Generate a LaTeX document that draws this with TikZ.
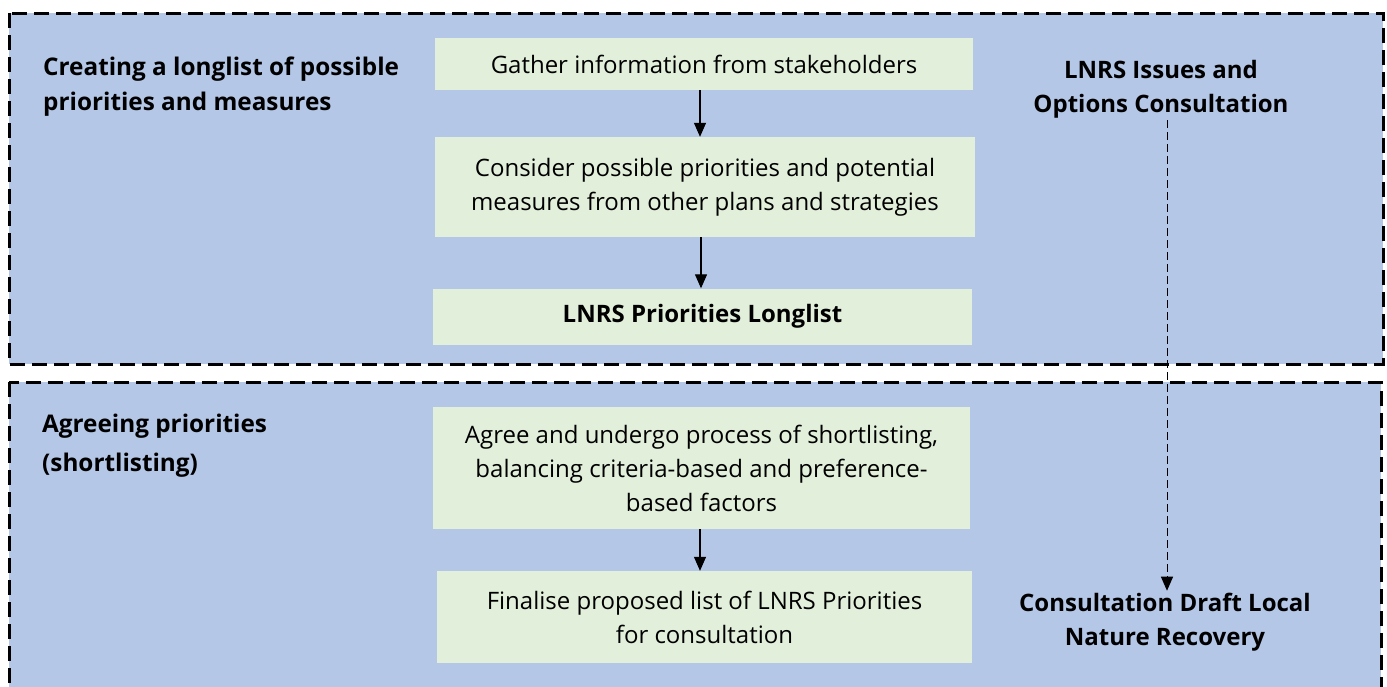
\documentclass[tikz,border=0pt]{standalone}
\usepackage{fontspec}
\setmainfont{Open Sans}
\usetikzlibrary{arrows.meta}
\definecolor{panelblue}{HTML}{B4C7E7}
\definecolor{boxgreen}{HTML}{E2EFDA}
\begin{document}
\begin{tikzpicture}[x=1pt,y=-1pt,
  panel/.style={draw=black, fill=panelblue, line width=3pt, dash pattern=on 15pt off 7pt},
  gbox/.style={fill=boxgreen, draw=none, align=center, inner sep=0pt,
    font=\fontsize{24}{34}\selectfont},
  lbl/.style={align=left, inner sep=0pt, anchor=west},
  rlbl/.style={align=center, inner sep=2pt,
    font=\fontsize{24}{34}\selectfont\bfseries},
  flow/.style={-{Triangle[length=14pt,width=12pt]}, line width=1.2pt},
  dflow/.style={-{Triangle[length=14pt,width=12pt]}, line width=1pt, dash pattern=on 8pt off 4pt}
]
\useasboundingbox (0,0) rectangle (1387,686);
\clip (0,0) rectangle (1387,686);
\fill[white] (0,0) rectangle (1387,686);
% panels
\draw[panel] (9,13) rectangle (1383,364);
\draw[panel] (9,382) rectangle (1381,720);
% left labels
\node[lbl, font=\fontsize{24.3}{35}\selectfont\bfseries] (lab1) at (43,87) {Creating a longlist of possible\\priorities and measures};
\node[lbl, font=\fontsize{24.3}{39}\selectfont\bfseries] (lab2) at (42,446) {Agreeing priorities\\(shortlisting)};
% green boxes
\node[gbox, minimum width=538pt, minimum height=52pt] (b1) at (704,64) {Gather information from stakeholders};
\node[gbox, minimum width=540pt, minimum height=100pt] (b2) at (705,187) {Consider possible priorities and potential\\measures from other plans and strategies};
\node[gbox, minimum width=539pt, minimum height=56pt, font=\fontsize{24}{34}\selectfont\bfseries] (b3) at (702.5,316.5) {LNRS Priorities Longlist};
\node[gbox, minimum width=537pt, minimum height=122pt] (b4) at (701.5,468) {Agree and undergo process of shortlisting,\\balancing criteria-based and preference-\\based factors};
\node[gbox, minimum width=535pt, minimum height=92pt] (b5) at (704.5,617) {Finalise proposed list of LNRS Priorities\\for consultation};
% right labels
\node[rlbl] (iss) at (1161,89) {LNRS Issues and\\Options Consultation};
\node[rlbl] (cdl) at (1165,622) {Consultation Draft Local\\Nature Recovery};
% arrows
\draw[flow] (b1.south -| 700,0) -- (b2.north -| 700,0);
\draw[flow] (b2.south -| 701,0) -- (b3.north -| 701,0);
\draw[flow] (b4.south -| 700,0) -- (b5.north -| 700,0);
\draw[dflow] (iss.south -| 1167,0) -- (cdl.north -| 1167,0);
\end{tikzpicture}
\end{document}
